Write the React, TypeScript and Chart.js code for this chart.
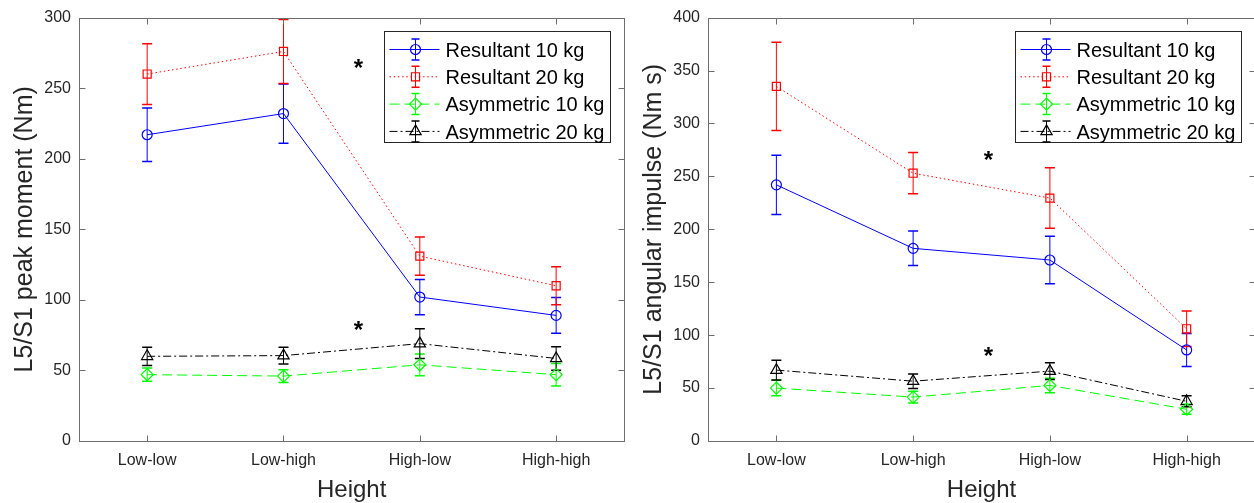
import React, { useEffect, useRef } from "react";
import { Chart, registerables } from "chart.js";

Chart.register(...registerables);

// ---------- data ----------
const categories = ["Low-low", "Low-high", "High-low", "High-high"];
const seriesNames = ["Resultant 10 kg", "Resultant 20 kg", "Asymmetric 10 kg", "Asymmetric 20 kg"];

// Left panel: L5/S1 peak moment (Nm)
const peakRes10 = [217, 232, 102, 89];
const peakRes10Err = [19, 21, 12.5, 12.6];
const peakRes20 = [260, 276, 131, 110];
const peakRes20Err = [21.5, 22.7, 13.6, 13.5];
const peakAsy10 = [47, 46, 54, 47];
const peakAsy10Err = [4.7, 4.5, 7.7, 8];
const peakAsy20 = [60, 60.5, 69, 58.5];
const peakAsy20Err = [6.5, 6, 10.5, 8.3];
const peakYMax = 300;
// star positions: x as category index (0 = Low-low), y in axis units
const peakStars = [
  { x: 1.55, y: 264 },
  { x: 1.55, y: 78.5 },
];

// Right panel: L5/S1 angular impulse (Nm s)
const impRes10 = [242, 182, 171, 86];
const impRes10Err = [28, 16.3, 22.5, 15.6];
const impRes20 = [335, 253, 229.5, 106];
const impRes20Err = [41.7, 19.5, 28.6, 16.8];
const impAsy10 = [50, 41.5, 52.5, 30];
const impAsy10Err = [7.3, 5.5, 6.9, 4.7];
const impAsy20 = [67, 56.5, 66, 37.5];
const impAsy20Err = [9.3, 6.8, 8, 5.2];
const impYMax = 400;
const impStars = [
  { x: 1.55, y: 265.8 },
  { x: 1.55, y: 80.6 },
];

const yStep = 50;

// ---------- styles ----------
const FONT = '"Liberation Sans", Arial, Helvetica, sans-serif';
const TEXT_COLOR = "#262626";
const FRAME_COLOR = "#6e6e6e";
const seriesColors = ["#0000ff", "#ff0000", "#00ff00", "#000000"];
const seriesDashes = [[], [1.5, 2.7], [10, 5], [8, 3, 2, 3]];
const seriesMarkers = ["circle", "rect", "rectRot", "triangle"];
const markerRadii = [5, 5.7, 6, 6.5];

type Star = { x: number; y: number };
type PanelCfg = {
  yTitle: string;
  yMax: number;
  series: number[][];
  errors: number[][];
  stars: Star[];
  yAxisWidth: number;
  padRight: number;
};

function drawMarker(ctx: CanvasRenderingContext2D, style: string, x: number, y: number, r: number) {
  ctx.beginPath();
  if (style === "circle") {
    ctx.arc(x, y, r, 0, Math.PI * 2);
  } else if (style === "rect") {
    const s = Math.SQRT1_2 * r;
    ctx.rect(x - s, y - s, 2 * s, 2 * s);
  } else if (style === "rectRot") {
    ctx.moveTo(x - r, y);
    ctx.lineTo(x, y - r);
    ctx.lineTo(x + r, y);
    ctx.lineTo(x, y + r);
    ctx.closePath();
  } else {
    for (let k = 0; k < 3; k++) {
      const a = (k * 2 * Math.PI) / 3;
      const px = x + Math.sin(a) * r;
      const py = y - Math.cos(a) * r;
      if (k === 0) ctx.moveTo(px, py);
      else ctx.lineTo(px, py);
    }
    ctx.closePath();
  }
  ctx.stroke();
}

function makePlugin(cfg: PanelCfg) {
  return {
    id: "matlabDecor",
    beforeDatasetsDraw(chart: any) {
      const ctx: CanvasRenderingContext2D = chart.ctx;
      const xs = chart.scales.x;
      const ys = chart.scales.y;
      ctx.save();
      cfg.series.forEach((vals, i) => {
        ctx.strokeStyle = seriesColors[i];
        vals.forEach((v, j) => {
          const e = cfg.errors[i][j];
          const px = xs.getPixelForValue(j);
          const yt = ys.getPixelForValue(v + e);
          const yb = ys.getPixelForValue(v - e);
          ctx.setLineDash([]);
          ctx.lineWidth = 1;
          ctx.beginPath();
          ctx.moveTo(px, yt);
          ctx.lineTo(px, yb);
          ctx.stroke();
          ctx.lineWidth = 1.5;
          ctx.beginPath();
          ctx.moveTo(px - 5, yt);
          ctx.lineTo(px + 5, yt);
          ctx.moveTo(px - 5, yb);
          ctx.lineTo(px + 5, yb);
          ctx.stroke();
        });
      });
      ctx.restore();
    },
    afterDraw(chart: any) {
      const ctx: CanvasRenderingContext2D = chart.ctx;
      const area = chart.chartArea;
      const xs = chart.scales.x;
      const ys = chart.scales.y;
      ctx.save();
      // frame
      const L = Math.round(area.left) + 0.5;
      const R = Math.round(area.right) + 0.5;
      const T = Math.round(area.top) + 0.5;
      const B = Math.round(area.bottom) + 0.5;
      ctx.strokeStyle = FRAME_COLOR;
      ctx.lineWidth = 1;
      ctx.setLineDash([]);
      ctx.strokeRect(L, T, R - L, B - T);
      // inward ticks
      ctx.beginPath();
      categories.forEach((_, j) => {
        const px = Math.round(xs.getPixelForValue(j)) + 0.5;
        ctx.moveTo(px, B);
        ctx.lineTo(px, B - 6);
        ctx.moveTo(px, T);
        ctx.lineTo(px, T + 6);
      });
      for (let v = 0; v <= cfg.yMax; v += yStep) {
        const py = Math.round(ys.getPixelForValue(v)) + 0.5;
        ctx.moveTo(L, py);
        ctx.lineTo(L + 6, py);
        ctx.moveTo(R, py);
        ctx.lineTo(R - 6, py);
      }
      ctx.stroke();

      // axis titles
      ctx.fillStyle = TEXT_COLOR;
      ctx.font = `24px ${FONT}`;
      ctx.textAlign = "center";
      ctx.textBaseline = "alphabetic";
      ctx.fillText("Height", (area.left + area.right) / 2, 497);
      ctx.save();
      ctx.translate(area.left - 47, (area.top + area.bottom) / 2);
      ctx.rotate(-Math.PI / 2);
      ctx.font = `25px ${FONT}`;
      ctx.fillText(cfg.yTitle, 0, 0);
      ctx.restore();

      // significance stars
      ctx.fillStyle = "#000";
      ctx.font = `bold 24px ${FONT}`;
      cfg.stars.forEach((s) => {
        const px = xs.getPixelForValue(s.x);
        const py = ys.getPixelForValue(s.y);
        ctx.fillText("*", px, py + 0.33 * 24);
      });

      // legend
      const bw = 226;
      const bh = 111;
      const bx = Math.round(area.right - 14 - bw) + 0.5;
      const by = Math.round(area.top + 13) + 0.5;
      ctx.fillStyle = "#fff";
      ctx.fillRect(bx, by, bw, bh);
      ctx.strokeStyle = TEXT_COLOR;
      ctx.lineWidth = 1;
      ctx.strokeRect(bx, by, bw, bh);
      seriesNames.forEach((name, i) => {
        const ry = by + 18 + i * 27.3;
        const col = seriesColors[i];
        ctx.strokeStyle = col;
        ctx.lineWidth = 1;
        ctx.setLineDash(seriesDashes[i]);
        ctx.beginPath();
        ctx.moveTo(bx + 5, ry);
        ctx.lineTo(bx + 55, ry);
        ctx.stroke();
        ctx.setLineDash([]);
        const mx = bx + 31;
        ctx.beginPath();
        ctx.moveTo(mx, ry - 10.5);
        ctx.lineTo(mx, ry + 10.5);
        ctx.stroke();
        ctx.lineWidth = 1.5;
        ctx.beginPath();
        ctx.moveTo(mx - 4, ry - 10.5);
        ctx.lineTo(mx + 4, ry - 10.5);
        ctx.moveTo(mx - 4, ry + 10.5);
        ctx.lineTo(mx + 4, ry + 10.5);
        ctx.stroke();
        ctx.lineWidth = 1.2;
        drawMarker(ctx, seriesMarkers[i], mx, ry, markerRadii[i]);
        ctx.fillStyle = "#000";
        ctx.font = `20px ${FONT}`;
        ctx.textAlign = "left";
        ctx.fillText(name, bx + 61, ry + 7.3);
      });
      ctx.restore();
    },
  };
}

function Panel({ cfg, left, width }: { cfg: PanelCfg; left: number; width: number }) {
  const ref = useRef<HTMLCanvasElement>(null);
  useEffect(() => {
    const canvas = ref.current;
    if (!canvas) return;
    const tickFont = { family: FONT, size: 16 };
    const chart = new Chart(canvas, {
      type: "line",
      data: {
        labels: categories,
        datasets: cfg.series.map((data, i) => ({
          label: seriesNames[i],
          data,
          borderColor: seriesColors[i],
          backgroundColor: "rgba(0,0,0,0)",
          borderWidth: 1,
          borderDash: seriesDashes[i],
          pointStyle: seriesMarkers[i] as any,
          pointRadius: markerRadii[i],
          pointHoverRadius: markerRadii[i],
          pointBorderColor: seriesColors[i],
          pointBackgroundColor: "rgba(0,0,0,0)",
          pointBorderWidth: 1.2,
          tension: 0,
          fill: false,
        })),
      },
      options: {
        animation: false,
        responsive: false,
        maintainAspectRatio: false,
        events: [],
        layout: { padding: { top: 14, right: cfg.padRight, left: 0, bottom: 0 } },
        plugins: { legend: { display: false }, tooltip: { enabled: false } },
        scales: {
          x: {
            type: "category",
            offset: true,
            grid: { display: false, drawTicks: false },
            border: { display: false },
            ticks: { color: TEXT_COLOR, font: tickFont, padding: 10, maxRotation: 0, autoSkip: false },
            afterFit: (s: any) => {
              s.height = 62;
            },
          },
          y: {
            type: "linear",
            min: 0,
            max: cfg.yMax,
            grid: { display: false, drawTicks: false },
            border: { display: false },
            ticks: { stepSize: yStep, color: TEXT_COLOR, font: tickFont, padding: 8 },
            afterFit: (s: any) => {
              s.width = cfg.yAxisWidth;
            },
          },
        },
      },
      plugins: [makePlugin(cfg)],
    } as any);
    return () => chart.destroy();
  }, []);
  return (
    <canvas
      ref={ref}
      width={width}
      height={503}
      style={{ position: "absolute", left, top: 0, width, height: 503 }}
    />
  );
}

const leftCfg: PanelCfg = {
  yTitle: "L5/S1 peak moment (Nm)",
  yMax: peakYMax,
  series: [peakRes10, peakRes20, peakAsy10, peakAsy20],
  errors: [peakRes10Err, peakRes20Err, peakAsy10Err, peakAsy20Err],
  stars: peakStars,
  yAxisWidth: 79,
  padRight: 6,
};

const rightCfg: PanelCfg = {
  yTitle: "L5/S1 angular impulse (Nm s)",
  yMax: impYMax,
  series: [impRes10, impRes20, impAsy10, impAsy20],
  errors: [impRes10Err, impRes20Err, impAsy10Err, impAsy20Err],
  stars: impStars,
  yAxisWidth: 76,
  padRight: 9,
};

export default function App() {
  useEffect(() => {
    document.body.style.margin = "0";
    document.body.style.overflow = "hidden";
  }, []);
  return (
    <div
      style={{
        position: "fixed",
        left: 0,
        top: 0,
        width: 1254,
        height: 503,
        overflow: "hidden",
        background: "#fff",
      }}
    >
      <Panel cfg={leftCfg} left={0} width={632} />
      <Panel cfg={rightCfg} left={632} width={632} />
    </div>
  );
}
